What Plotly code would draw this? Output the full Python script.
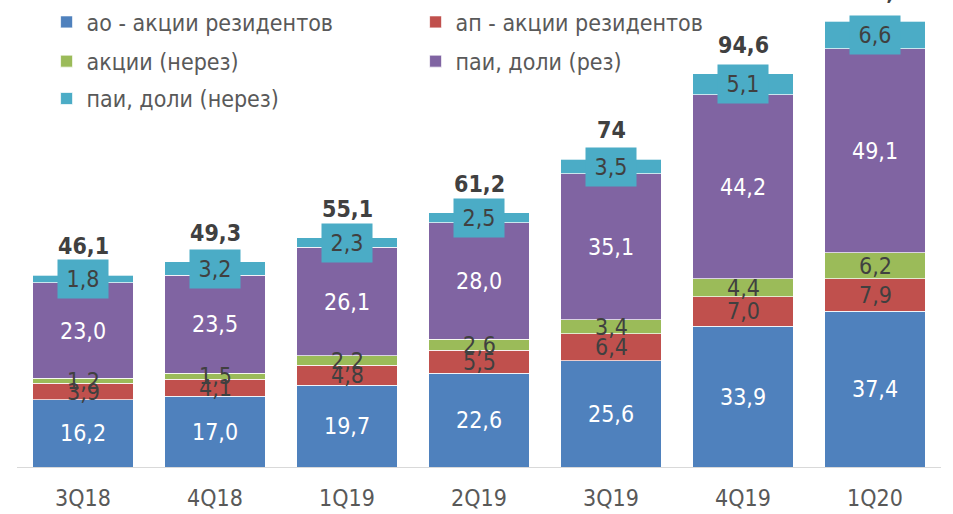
import plotly.graph_objects as go

categories = ["3Q18", "4Q18", "1Q19", "2Q19", "3Q19", "4Q19", "1Q20"]
ao_res = [16.2, 17.0, 19.7, 22.6, 25.6, 33.9, 37.4]
ap_res = [3.9, 4.1, 4.8, 5.5, 6.4, 7.0, 7.9]
akcii_nerez = [1.2, 1.5, 2.2, 2.6, 3.4, 4.4, 6.2]
pai_rez = [23.0, 23.5, 26.1, 28.0, 35.1, 44.2, 49.1]
pai_nerez = [1.8, 3.2, 2.3, 2.5, 3.5, 5.1, 6.6]
totals = [46.1, 49.3, 55.1, 61.2, 74, 94.6, 107.2]

series = [
    ("ао - акции резидентов", ao_res, "#4F81BD", "white", "legend"),
    ("ап - акции резидентов", ap_res, "#C0504D", "#404040", "legend"),
    ("акции (нерез)", akcii_nerez, "#9BBB59", "#404040", "legend2"),
    ("паи, доли (рез)", pai_rez, "#8064A2", "white", "legend2"),
    ("паи, доли (нерез)", pai_nerez, "#4BACC6", "#404040", "legend3"),
]

FONT = "DejaVu Sans Condensed, DejaVu Sans, sans-serif"
FS = 23

fig = go.Figure()
annotations = []
base = [0.0] * len(categories)
for name, vals, color, tcol, leg in series:
    fig.add_trace(go.Bar(
        name=name, x=categories, y=vals, marker_color=color,
        marker_line=dict(color="rgba(255,255,255,0.7)", width=1),
        legend=leg, hoverinfo="x+y+name",
    ))
    for i, v in enumerate(vals):
        yc = base[i] + v / 2
        ann = dict(x=categories[i], y=yc, xref="x", yref="y", text=("%.1f" % v).replace(".", ","),
                   showarrow=False, font=dict(family=FONT, size=FS, color=tcol))
        if leg == "legend3":
            ann.update(bgcolor=color, width=46, height=34, borderpad=2)
        annotations.append(ann)
        base[i] += v

for i, t in enumerate(totals):
    txt = ("%g" % t).replace(".", ",")
    annotations.append(dict(x=categories[i], y=t, xref="x", yref="y", text="<b>%s</b>" % txt,
                            showarrow=False, yshift=29,
                            font=dict(family=FONT, size=FS, color="#404040")))

leg_common = dict(orientation="h", xref="paper", yref="paper", x=0.032, xanchor="left",
                  yanchor="middle", entrywidth=324, bgcolor="rgba(0,0,0,0)",
                  font=dict(family=FONT, size=FS, color="#595959"), traceorder="normal")

fig.update_layout(
    barmode="stack",
    bargap=0.235,
    width=953, height=514,
    margin=dict(l=17, r=12, t=0, b=47, pad=0),
    plot_bgcolor="white", paper_bgcolor="white",
    font=dict(family=FONT, size=FS, color="#595959"),
    showlegend=True,
    legend=dict(leg_common, y=0.953),
    legend2=dict(leg_common, y=0.869),
    legend3=dict(leg_common, y=0.789),
    annotations=annotations,
    xaxis=dict(showline=True, linecolor="#D9D9D9", linewidth=1, ticks="outside", ticklen=10,
               tickcolor="rgba(0,0,0,0)", tickfont=dict(family=FONT, size=FS, color="#595959"),
               showgrid=False, fixedrange=True),
    yaxis=dict(range=[0, 112.3], visible=False, showgrid=False, fixedrange=True),
)

fig.write_html("out.html", config={"displayModeBar": False},
               post_script="document.body.style.margin='0';")
